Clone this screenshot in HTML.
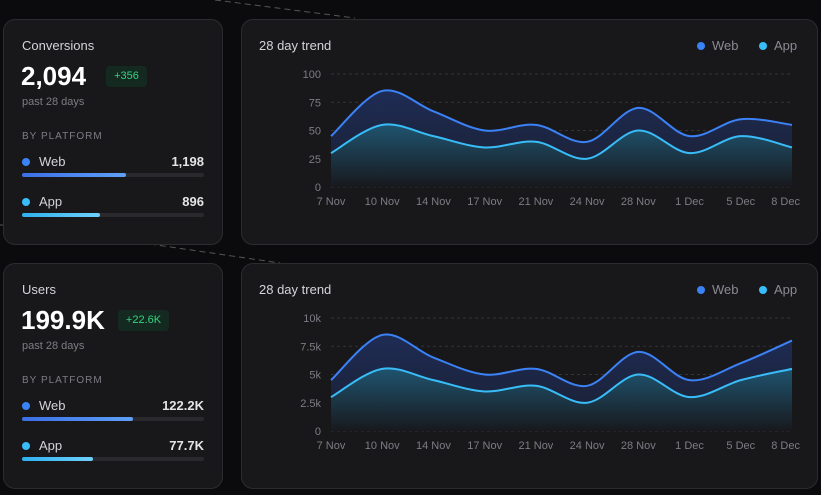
<!DOCTYPE html><html><head><style>
body{margin:0;width:821px;height:495px;background:#0b0b0d;font-family:"Liberation Sans",sans-serif;position:relative;overflow:hidden}
.card{position:absolute;background:#18181b;border:1px solid #2c2c30;border-radius:12px;box-sizing:border-box}
.t{position:absolute;white-space:nowrap}
</style></head><body>
<svg width="821" height="495" style="position:absolute;left:0;top:0">
<g stroke="#555" stroke-dasharray="6 4" stroke-width="1">
<line x1="215" y1="0" x2="355" y2="18"/><line x1="150" y1="244" x2="280" y2="263"/><line x1="0" y1="225" x2="5" y2="225"/></g></svg>
<div id="root"></div>
<script>
function card(y,o){
 let h='';
 h+=`<div class="card" style="left:3px;top:${y}px;width:220px;height:226px"></div>`;
 h+=`<div class="t" style="left:22px;top:${y+19}px;font-size:13px;color:#d4d4d8">${o.title}</div>`;
 h+=`<div class="t" style="left:21px;top:${y+42}px;font-size:26px;font-weight:bold;color:#fff">${o.big}</div>`;
 h+=`<div class="t" style="left:${o.bx}px;top:${y+47}px;width:${o.bw}px;height:21px;background:#142a20;border-radius:4px;color:#34d27f;font-size:11px;line-height:21px;text-align:center">${o.badge}</div>`;
 h+=`<div class="t" style="left:22px;top:${y+77}px;font-size:11px;color:#7c7c84">past 28 days</div>`;
 h+=`<div class="t" style="left:22px;top:${y+112}px;font-size:10px;letter-spacing:1px;color:#7c7c84">BY PLATFORM</div>`;
 [[o.w,'Web','#3b82f6',o.wf,y+135,'#3b6fe6','#5fa0f7'],[o.a,'App','#38bdf8',o.af,y+175,'#2fb0ef','#6fd0fb']].forEach(r=>{
  h+=`<div class="t" style="left:22px;top:${r[4]+4}px;width:8px;height:8px;border-radius:50%;background:${r[2]}"></div>`;
  h+=`<div class="t" style="left:39px;top:${r[4]}px;font-size:13px;color:#d4d4d8">${r[1]}</div>`;
  h+=`<div class="t" style="right:${821-204}px;top:${r[4]}px;font-size:13px;font-weight:bold;color:#e4e4e7">${r[0]}</div>`;
  h+=`<div class="t" style="left:22px;top:${r[4]+19}px;width:182px;height:4px;border-radius:2px;background:#2a2a2e"><div style="width:${r[3]-22}px;height:4px;border-radius:2px;background:linear-gradient(90deg,${r[5]},${r[6]})"></div></div>`;
 });
 h+=`<div class="card" style="left:241px;top:${y}px;width:577px;height:226px"></div>`;
 h+=`<div class="t" style="left:259px;top:${y+19}px;font-size:13px;color:#d4d4d8">28 day trend</div>`;
 h+=`<div class="t" style="left:697px;top:${y+23}px;width:8px;height:8px;border-radius:50%;background:#3b82f6"></div><div class="t" style="left:712px;top:${y+19}px;font-size:13px;color:#8a8a92">Web</div>`;
 h+=`<div class="t" style="left:759px;top:${y+23}px;width:8px;height:8px;border-radius:50%;background:#38bdf8"></div><div class="t" style="left:774px;top:${y+19}px;font-size:13px;color:#8a8a92">App</div>`;
 const x0=331,x1=792,yt=y+55,yb=y+168,xs=[];for(let i=0;i<10;i++)xs.push(x0+(x1-x0)*i/9);
 const Y=v=>yb-(yb-yt)*v/o.max;
 function path(vals){const p=vals.map((v,i)=>[xs[i],Y(v)]);const n=p.length;let d=`M${p[0][0]},${p[0][1]}`;
  for(let i=0;i<n-1;i++){const a=p[Math.max(i-1,0)],b=p[i],c=p[i+1],e=p[Math.min(i+2,n-1)];
   const c1=[b[0]+(c[0]-a[0])/6,b[1]+(c[1]-a[1])/6],c2=[c[0]-(e[0]-b[0])/6,c[1]-(e[1]-b[1])/6];
   d+=` C${c1[0]},${c1[1]} ${c2[0]},${c2[1]} ${c[0]},${c[1]}`;}return d;}
 let s=`<svg width="821" height="495" style="position:absolute;left:0;top:0"><defs>
 <linearGradient id="gw${y}" x1="0" y1="0" x2="0" y2="1"><stop offset="0" stop-color="#1e2c55"/><stop offset="1" stop-color="#1a1f30"/></linearGradient>
 <linearGradient id="ga${y}" x1="0" y1="0" x2="0" y2="1"><stop offset="0" stop-color="#1f5470"/><stop offset="1" stop-color="#18191d"/></linearGradient></defs>`;
 o.ticks.forEach((t,i)=>{const yy=Y(o.max*i/4);s+=`<line x1="${x0}" x2="${x1}" y1="${yy}" y2="${yy}" stroke="#333338" stroke-dasharray="3 3"/><text x="321" y="${yy+4}" text-anchor="end" font-size="11" fill="#7c7c84" font-family="Liberation Sans">${t}</text>`;});
 const pw=path(o.web),pa=path(o.app);
 s+=`<path d="${pw} L${x1},${yb} L${x0},${yb}Z" fill="url(#gw${y})"/><path d="${pa} L${x1},${yb} L${x0},${yb}Z" fill="url(#ga${y})"/>`;
 s+=`<path d="${pw}" fill="none" stroke="#3b82f6" stroke-width="2"/><path d="${pa}" fill="none" stroke="#38bdf8" stroke-width="2"/>`;
 ['7 Nov','10 Nov','14 Nov','17 Nov','21 Nov','24 Nov','28 Nov','1 Dec','5 Dec','8 Dec'].forEach((l,i)=>{s+=`<text x="${i==9?800:xs[i]}" y="${yb+18}" text-anchor="${i==9?'end':'middle'}" font-size="11" fill="#7c7c84" font-family="Liberation Sans">${l}</text>`;});
 s+='</svg>';
 return h+s;
}
document.getElementById('root').innerHTML=
card(19,{title:'Conversions',big:'2,094',badge:'+356',bx:106,bw:41,w:'1,198',a:'896',wf:126,af:100,max:100,ticks:['0','25','50','75','100'],
 web:[45,85,67,50,55,40,70,45,60,55],app:[30,55,45,35,40,25,50,30,45,35]})+
card(263,{title:'Users',big:'199.9K',badge:'+22.6K',bx:118,bw:51,w:'122.2K',a:'77.7K',wf:133,af:93,max:10,ticks:['0','2.5k','5k','7.5k','10k'],
 web:[4.5,8.5,6.5,5,5.5,4,7,4.5,6,8],app:[3,5.5,4.5,3.5,4,2.5,5,3,4.5,5.5]});
</script></body></html>
